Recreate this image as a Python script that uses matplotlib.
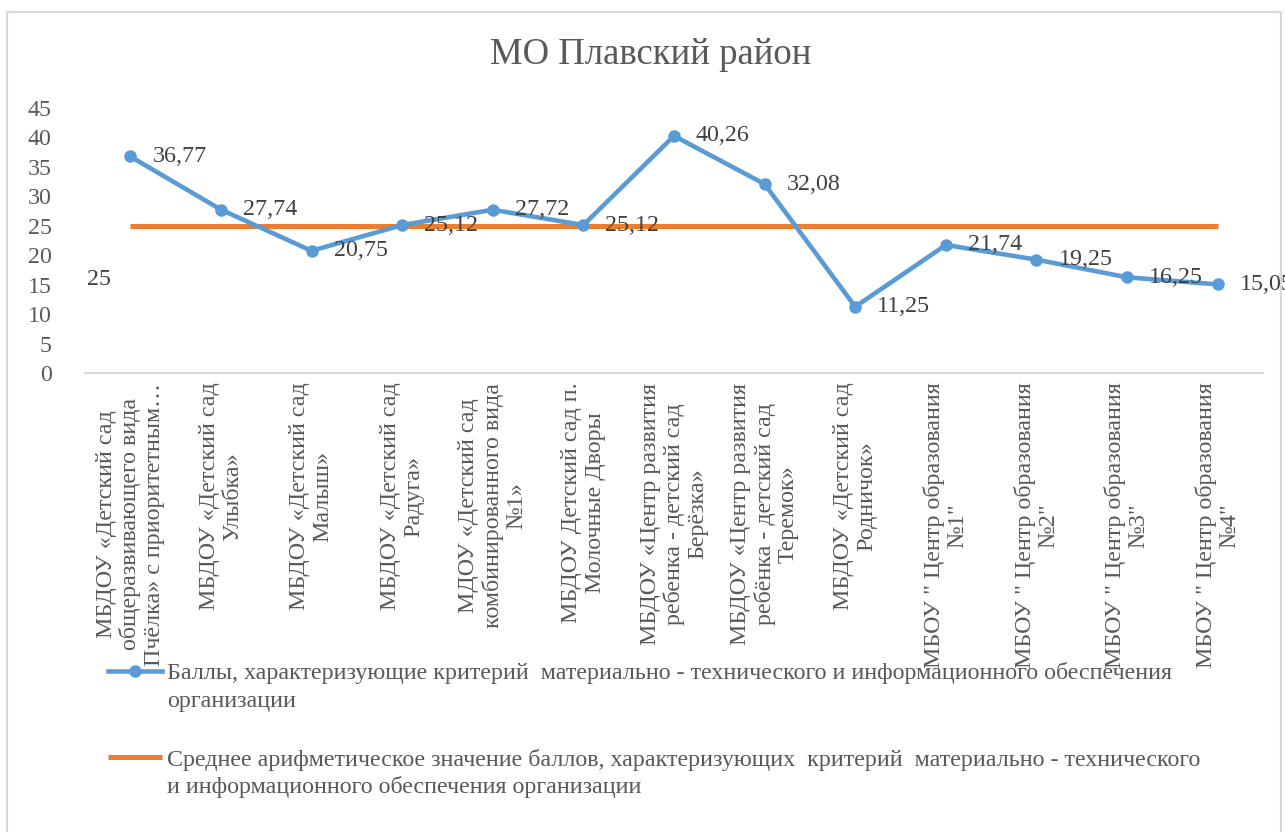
import numpy as np
import matplotlib
matplotlib.use('Agg')
import matplotlib.pyplot as plt
from matplotlib.patches import Rectangle

plt.rcParams['font.family'] = ['Liberation Serif', 'DejaVu Serif']

categories = [
    'МБДОУ «Детский сад\nобщеразвивающего вида\nПчёлка» с приоритетным…',
    'МБДОУ «Детский сад\nУлыбка»',
    'МБДОУ «Детский сад\nМалыш»',
    'МБДОУ «Детский сад\nРадуга»',
    'МДОУ «Детский сад\nкомбинированного вида\n№1»',
    'МБДОУ Детский сад п.\nМолочные Дворы',
    'МБДОУ «Центр развития\nребенка - детский сад\nБерёзка»',
    'МБДОУ «Центр развития\nребёнка - детский сад\nТеремок»',
    'МБДОУ «Детский сад\nРодничок»',
    'МБОУ " Центр образования\n№1"',
    'МБОУ " Центр образования\n№2"',
    'МБОУ " Центр образования\n№3"',
    'МБОУ " Центр образования\n№4"',
]
scores = [36.77, 27.74, 20.75, 25.12, 27.72, 25.12, 40.26, 32.08, 11.25, 21.74, 19.25, 16.25, 15.05]
average = [25] * len(scores)

series1 = ['Баллы, характеризующие критерий  материально - технического и информационного обеспечения',
           'организации']
series2 = ['Среднее арифметическое значение баллов, характеризующих  критерий  материально - технического',
           'и информационного обеспечения организации']

blue = '#5B9BD5'
orange = '#ED7D31'
txt = '#404040'
grey = '#595959'
fs = 17.3

W, H = 1285, 832
fig = plt.figure(figsize=(W / 100, H / 100), dpi=100)
ax = fig.add_axes([85 / W, 1 - 373 / H, (1263 - 85) / W, (373 - 108) / H])

x = np.arange(len(scores))
l1, = ax.plot(x, scores, color=blue, lw=3.3, marker='o', ms=8, zorder=3)
l2, = ax.plot(x, average, color=orange, lw=3.6, solid_capstyle='butt', zorder=2)

for xi, v in zip(x, scores):
    ax.annotate(f'{v:.2f}'.replace('.', ','), (xi, v), xytext=(22, 0),
                textcoords='offset pixels', ha='left', va='center',
                fontsize=fs, color=txt, zorder=4)
ax.annotate('25', (0, average[0]), xytext=(-31, -54), textcoords='offset pixels',
            ha='center', va='center', fontsize=fs, color=txt)

ax.set_xlim(-0.5, len(scores) - 0.5)
ax.set_ylim(0, 45)
ax.set_yticks(range(0, 50, 5))
ax.set_xticks(x)
ax.set_xticklabels(categories, rotation=90, fontsize=fs, color=grey,
                   multialignment='center', linespacing=1.15)
ax.tick_params(axis='y', length=0, pad=24, labelsize=fs, labelcolor=grey)
ax.tick_params(axis='x', length=0, pad=7)
for s in ['top', 'right', 'left']:
    ax.spines[s].set_visible(False)
ax.spines['bottom'].set_color('#D9D9D9')
ax.spines['bottom'].set_linewidth(1.5)

fig.text(651 / W, 1 - 55 / H, 'МО Плавский район', ha='center', va='center',
         fontsize=26.5, color=grey)

leg = fig.legend([l1, l2], [series1[0], series2[0]], loc='upper left',
                 bbox_to_anchor=(108 / W, 1 - 662 / H), frameon=False,
                 borderaxespad=0, borderpad=0, fontsize=fs, handlelength=2.25,
                 handletextpad=0.2, labelspacing=2.7, labelcolor=grey)
fig.text(167 / W, 1 - 702 / H, series1[1], ha='left', va='center', fontsize=fs, color=grey)
fig.text(167 / W, 1 - 787 / H, series2[1], ha='left', va='center', fontsize=fs, color=grey)

fig.patches.append(Rectangle((7 / W, -0.1), (1281 - 7) / W, 1.1 - 12 / H,
                             transform=fig.transFigure, fill=False,
                             edgecolor='#D9D9D9', lw=1.5))

fig.savefig('out.png', dpi=100)
